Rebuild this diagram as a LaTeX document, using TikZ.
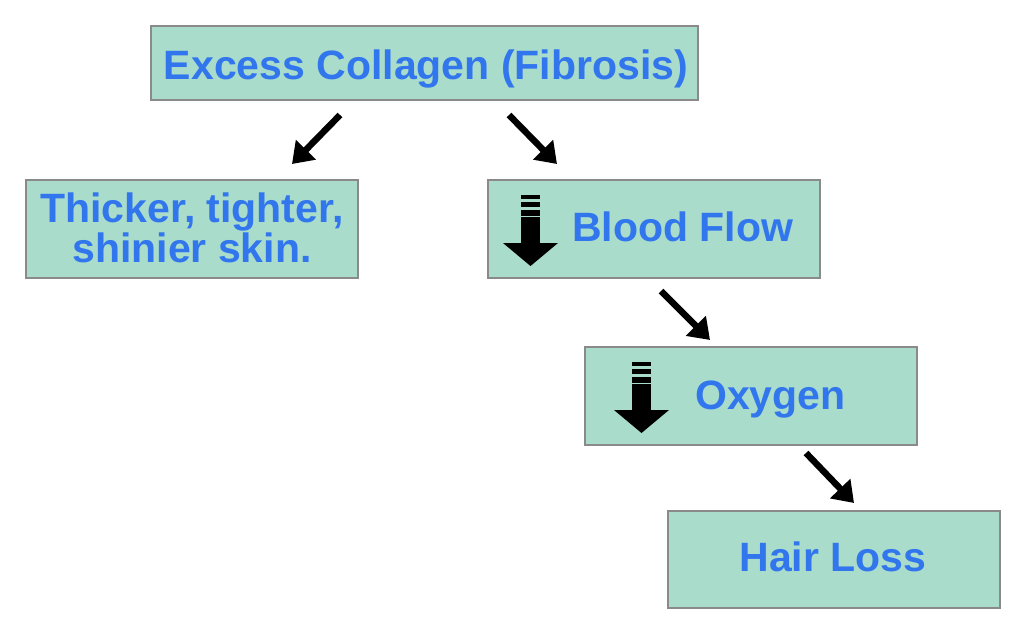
\documentclass[tikz,border=0pt]{standalone}
\usepackage{fontspec}
\setmainfont{Liberation Sans}
\usetikzlibrary{arrows.meta}
\definecolor{boxfill}{RGB}{169,220,203}
\definecolor{boxline}{RGB}{138,138,138}
\definecolor{txtblue}{RGB}{50,118,238}
\tikzset{
  box/.style={draw=boxline, line width=2pt, fill=boxfill, inner sep=0pt},
  lbl/.style={text=txtblue, font=\fontsize{41}{37}\selectfont\bfseries, inner sep=0pt, align=center},
  flowarrow/.style={line width=6.5pt, -{Triangle[length=20pt,width=27pt]}},
  downicon/.pic={
    \fill (18,0) rectangle (37,4);
    \fill (18,7) rectangle (37,12);
    \fill (18,15) rectangle (37,21);
    \fill (18,22) rectangle (37,48);
    \fill (0,48) -- (55,48) -- (27.5,71) -- cycle;
  }
}
\begin{document}
\begin{tikzpicture}[x=1pt,y=-1pt]
\useasboundingbox (0,0) rectangle (1024,629);
\node[box, minimum width=547pt, minimum height=74pt] (exc) at (424.5,63) {};
\node[box, minimum width=332pt, minimum height=98pt] (thick) at (192,229) {};
\node[box, minimum width=332pt, minimum height=98pt] (blood) at (654,229) {};
\node[box, minimum width=332pt, minimum height=98pt] (oxy) at (751,396) {};
\node[box, minimum width=332pt, minimum height=97pt] (hair) at (834,559.5) {};

\node[lbl, anchor=base] (excT) at (426,79) {Excess Collagen (Fibrosis)};
\node[lbl, anchor=base] (thickT) at (192,262) {Thicker, tighter,\\shinier skin.};
\node[lbl, anchor=base west] (bloodT) at (572,241) {Blood Flow};
\node[lbl, anchor=base west] (oxyT) at (695,409) {Oxygen};
\node[lbl, anchor=base] (hairT) at (833,571) {Hair Loss};

\pic at (503,195) {downicon};
\pic at (614,362) {downicon};

\coordinate (a1s) at (340,115); \coordinate (a1e) at (292,164);
\coordinate (a2s) at (509,115); \coordinate (a2e) at (557,164);
\coordinate (a3s) at (661,291); \coordinate (a3e) at (710,340);
\coordinate (a4s) at (806,453); \coordinate (a4e) at (854,503);
\draw[flowarrow] (a1s) -- (a1e);
\draw[flowarrow] (a2s) -- (a2e);
\draw[flowarrow] (a3s) -- (a3e);
\draw[flowarrow] (a4s) -- (a4e);
\end{tikzpicture}
\end{document}
